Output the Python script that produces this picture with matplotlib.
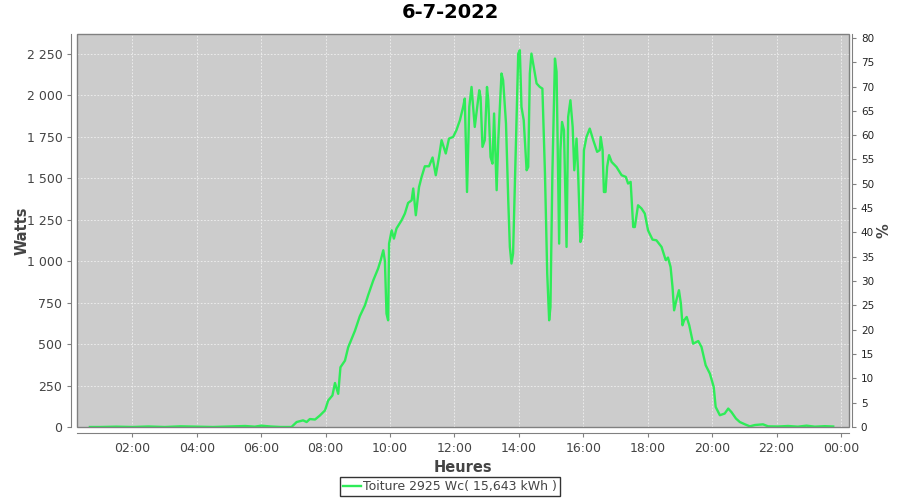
import numpy as np
import matplotlib
matplotlib.use("Agg")
import matplotlib.pyplot as plt
from matplotlib.ticker import FuncFormatter, MultipleLocator
from matplotlib.patches import Rectangle

# Données (heures décimales, watts)
heures = [0.68, 1.0, 1.5, 2.0, 2.5, 3.0, 3.5, 4.0, 4.5, 5.0, 5.5, 5.8, 6.0, 6.3, 6.6,
          6.94, 7.10, 7.30, 7.41, 7.51, 7.67, 7.82, 7.98, 8.08, 8.21, 8.29, 8.39, 8.46,
          8.60, 8.70, 8.91, 9.06, 9.22, 9.32, 9.48, 9.63, 9.71, 9.79, 9.84, 9.89, 9.94,
          9.97, 10.05, 10.12, 10.20, 10.36, 10.46, 10.56, 10.67, 10.72, 10.80, 10.90,
          10.98, 11.08, 11.21, 11.32, 11.42, 11.52, 11.60, 11.73, 11.83, 11.96, 12.06,
          12.17, 12.27, 12.32, 12.39, 12.46, 12.53, 12.63, 12.77, 12.81, 12.87, 12.94,
          13.01, 13.05, 13.12, 13.18, 13.23, 13.31, 13.36, 13.46, 13.51, 13.60, 13.67,
          13.72, 13.77, 13.82, 13.91, 13.98, 14.03, 14.08, 14.15, 14.24, 14.29, 14.34,
          14.39, 14.46, 14.55, 14.65, 14.73, 14.81, 14.88, 14.94, 14.98, 15.04, 15.12,
          15.17, 15.25, 15.29, 15.34, 15.40, 15.48, 15.53, 15.60, 15.67, 15.72, 15.79,
          15.84, 15.91, 15.96, 16.02, 16.10, 16.20, 16.31, 16.43, 16.51, 16.54, 16.60,
          16.64, 16.69, 16.74, 16.80, 16.88, 17.03, 17.19, 17.32, 17.39, 17.47, 17.55,
          17.60, 17.70, 17.81, 17.91, 18.01, 18.15, 18.27, 18.43, 18.56, 18.63, 18.71,
          18.77, 18.82, 18.89, 18.97, 19.03, 19.08, 19.13, 19.21, 19.29, 19.41, 19.57,
          19.67, 19.80, 19.93, 20.05, 20.11, 20.24, 20.39, 20.50, 20.60, 20.74, 20.86,
          21.02, 21.17, 21.33, 21.58, 21.74, 22.04, 22.36, 22.66, 22.93, 23.19, 23.50,
          23.76]
watts = [0, 0, 2, 0, 3, 0, 4, 2, 0, 3, 6, 2, 8, 3, 0,
         0, 30, 40, 30, 48, 45, 69, 100, 160, 190, 265, 200, 360,
         400, 480, 580, 667, 733, 794, 884, 955, 1005, 1065, 1000, 683, 643,
         1105, 1185, 1135, 1196, 1246, 1286, 1350, 1366, 1437, 1276, 1446,
         1507, 1571, 1571, 1624, 1517, 1627, 1728, 1648, 1738, 1748, 1788,
         1849, 1929, 1979, 1416, 1929, 2049, 1808, 2029, 1989, 1688, 1728,
         2049, 1969, 1627, 1587, 1889, 1427, 1728, 2130, 2090, 1829, 1366,
         1085, 985, 1045, 1728, 2250, 2270, 1929, 1849, 1547, 1567, 2130,
         2250, 2170, 2070, 2049, 2039, 1527, 925, 643, 723, 1527, 2220,
         2140, 1105, 1668, 1838, 1788, 1085, 1868, 1969, 1808, 1547, 1738,
         1527, 1115, 1145, 1668, 1748, 1798, 1728, 1658, 1668, 1748, 1668,
         1416, 1416, 1567, 1638, 1597, 1567, 1517, 1507, 1467, 1477, 1205,
         1205, 1336, 1316, 1286, 1185, 1129, 1125, 1085, 1005, 1021, 964,
         844, 703, 764, 824, 744, 613, 643, 663, 613, 502, 518,
         482, 372, 322, 241, 121, 71, 81, 111, 90, 51, 30,
         16, 4, 12, 16, 4, 3, 6, 2, 8, 2, 5,
         3]

titre = "6-7-2022"
legende = "Toiture 2925 Wc( 15,643 kWh )"
heures_ticks = [2, 4, 6, 8, 10, 12, 14, 16, 18, 20, 22, 24]

gris_texte = "#444444"
gris_axe = "#808080"

fig = plt.figure(figsize=(9, 5), dpi=100)
ax = fig.add_axes([77 / 900, 1 - 427 / 500, (849 - 77) / 900, (427 - 34) / 500])
ax.set_facecolor("#cccccc")

ax.plot(heures, watts, color="#2eec58", linewidth=1.7, label=legende, zorder=3)

ax.set_xlim(0.28, 24.25)
ax.set_ylim(0, 2368)
ax.set_xticks(heures_ticks)
ax.set_xticklabels(["%02d:00" % (h % 24) for h in heures_ticks])
ax.yaxis.set_major_locator(MultipleLocator(250))
ax.yaxis.set_major_formatter(FuncFormatter(lambda v, p: "{:,}".format(int(v)).replace(",", " ")))

ax.grid(True, color="#f0f0f0", linestyle=(0, (2, 2)), linewidth=0.6)
ax.set_axisbelow(True)

# bordure de la zone de tracé
for s in ["top", "right"]:
    ax.spines[s].set_visible(False)
ax.spines["left"].set_position(("outward", 4))
ax.spines["bottom"].set_position(("outward", 4))
for s in ["left", "bottom"]:
    ax.spines[s].set_color(gris_axe)
ax.add_patch(Rectangle((0, 0), 1, 1, transform=ax.transAxes, fill=False,
                       edgecolor=gris_axe, linewidth=1.0, zorder=5, clip_on=False))

ax.tick_params(axis="both", colors=gris_axe, labelcolor=gris_texte, labelsize=9, length=3)
ax.set_xlabel("Heures", fontsize=10.5, fontweight="bold", color=gris_texte, labelpad=4)
ax.set_ylabel("Watts", fontsize=10.5, fontweight="bold", color=gris_texte, labelpad=-2)

# axe de droite en %
ax2 = ax.twinx()
ax2.set_ylim(0, 80.8)
ax2.yaxis.set_major_locator(MultipleLocator(5))
for s in ["top", "left", "bottom"]:
    ax2.spines[s].set_visible(False)
ax2.spines["right"].set_position(("outward", 2))
ax2.spines["right"].set_color(gris_axe)
ax2.tick_params(axis="y", colors=gris_axe, labelcolor="#222222", labelsize=7.5, length=3)
ax2.set_ylabel("%", fontsize=10.5, fontweight="bold", color=gris_texte, labelpad=2)

fig.suptitle(titre, fontsize=14, fontweight="bold", y=0.995)

leg = fig.legend(loc="lower center", bbox_to_anchor=(0.5, 0.0), fontsize=9,
                 frameon=True, fancybox=False, edgecolor="black", handlelength=1.4,
                 handletextpad=0.2, borderpad=0.25, borderaxespad=0.3)
leg.get_frame().set_linewidth(1.0)
for t in leg.get_texts():
    t.set_color(gris_texte)

fig.savefig("out.png", dpi=100)
